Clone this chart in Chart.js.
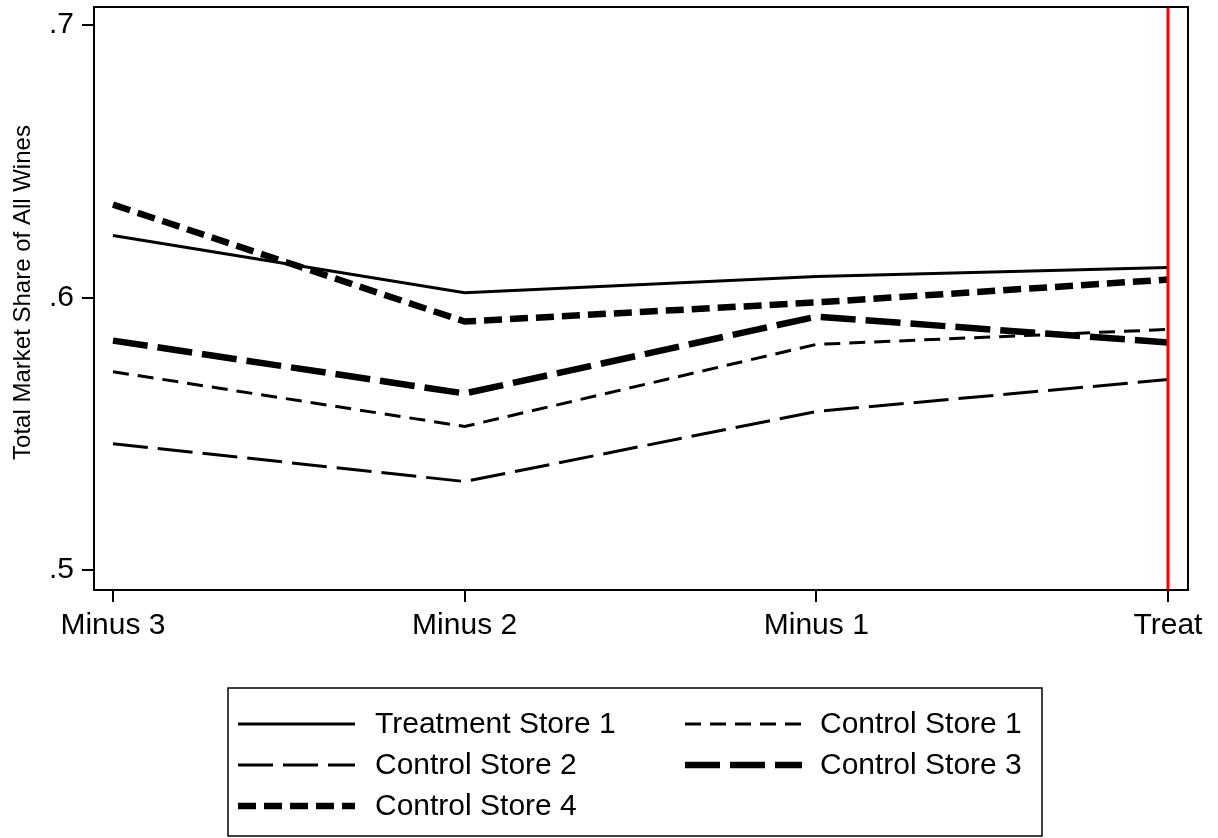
<!DOCTYPE html>
<html>
<head>
<meta charset="utf-8">
<script src="https://cdn.jsdelivr.net/npm/chart.js@4/dist/chart.umd.min.js"></script>
<style>
  html, body { margin: 0; padding: 0; background: #fff; }
  canvas { display: block; }
</style>
</head>
<body>
<canvas id="chart" width="1218" height="838"></canvas>
<script>
document.addEventListener('DOMContentLoaded', () => {

    // Data.
    const periods = ['Minus 3', 'Minus 2', 'Minus 1', 'Treat'];
    const yTicks = [0.5, 0.6, 0.7];
    const yTitle = 'Total Market Share of All Wines';
    const treatment1 = [0.6228, 0.6018, 0.6077, 0.6110];
    const control1 = [0.5728, 0.5527, 0.5828, 0.5883];
    const control2 = [0.5464, 0.5325, 0.5582, 0.5699];
    const control3 = [0.5842, 0.5648, 0.5930, 0.5835];
    const control4 = [0.6341, 0.5912, 0.5982, 0.6066];
    const treatIndex = 3;

    const FONT = '"Liberation Sans", Arial, Helvetica, sans-serif';
    const points = values => values.map((v, i) => ({ x: i, y: v }));

    function series(label, values, width, dash) {
        return {
            label: label,
            data: points(values),
            borderColor: '#000',
            borderWidth: width,
            borderDash: dash,
            borderCapStyle: 'butt',
            pointRadius: 0,
            tension: 0,
            fill: false,
        };
    }

    // Box around the plot region, the red line at the treatment period,
    // and the rotated y title.
    const frame = {
        id: 'frame',
        afterDatasetsDraw(chart) {
            const { ctx, chartArea: a, scales } = chart;
            ctx.save();
            const x = scales.x.getPixelForValue(treatIndex);
            ctx.strokeStyle = '#ff0000';
            ctx.lineWidth = 3;
            ctx.beginPath();
            ctx.moveTo(x, a.top);
            ctx.lineTo(x, a.bottom);
            ctx.stroke();
            ctx.strokeStyle = '#000';
            ctx.lineWidth = 2;
            ctx.strokeRect(a.left, a.top, a.right - a.left, a.bottom - a.top);

            ctx.translate(23, (a.top + a.bottom) / 2 - 6);
            ctx.rotate(-Math.PI / 2);
            ctx.font = '24px ' + FONT;
            ctx.fillStyle = '#000';
            ctx.textAlign = 'center';
            ctx.textBaseline = 'middle';
            ctx.fillText(yTitle, 0, 0);
            ctx.restore();
        },
    };

    // Two-column legend box under the plot, like Stata's.
    const boxLegend = {
        id: 'boxLegend',
        afterDraw(chart) {
            const ctx = chart.ctx;
            const cols = [{ line: 238, text: 375 }, { line: 685, text: 820 }];
            const rows = [724, 765, 806];
            ctx.save();
            ctx.strokeStyle = '#000';
            ctx.lineWidth = 1.5;
            ctx.strokeRect(228, 688, 814, 148);
            ctx.font = '30px ' + FONT;
            ctx.fillStyle = '#000';
            ctx.textBaseline = 'middle';
            chart.data.datasets.forEach((ds, i) => {
                const c = cols[i % 2];
                const y = rows[Math.floor(i / 2)];
                ctx.strokeStyle = ds.borderColor;
                ctx.lineWidth = ds.borderWidth;
                ctx.lineCap = 'butt';
                ctx.setLineDash(ds.borderDash);
                ctx.beginPath();
                ctx.moveTo(c.line, y);
                ctx.lineTo(c.line + 117, y);
                ctx.stroke();
                ctx.setLineDash([]);
                ctx.fillText(ds.label, c.text, y + 1);
            });
            ctx.restore();
        },
    };

    new Chart(document.getElementById('chart'), {
        type: 'line',
        data: {
            datasets: [
                series('Treatment Store 1', treatment1, 3, []),
                series('Control Store 1', control1, 3, [16, 9]),
                series('Control Store 2', control2, 3, [35, 10]),
                series('Control Store 3', control3, 6.5, [35, 10]),
                series('Control Store 4', control4, 6.5, [18, 8]),
            ],
        },
        options: {
            responsive: false,
            animation: false,
            events: [],
            layout: { padding: { top: 7, right: 30, bottom: 188, left: 0 } },
            plugins: {
                legend: { display: false },
                tooltip: { enabled: false },
            },
            scales: {
                x: {
                    type: 'linear',
                    min: -0.054,
                    max: 3.057,
                    afterBuildTicks: scale => { scale.ticks = periods.map((p, i) => ({ value: i })); },
                    afterFit: scale => {
                        scale.height = 60;
                        scale.paddingLeft = 0;
                        scale.paddingRight = 0;
                    },
                    ticks: {
                        callback: value => periods[value],
                        color: '#000',
                        font: { family: FONT, size: 30 },
                        padding: 6,
                        maxRotation: 0,
                        autoSkip: false,
                    },
                    grid: { drawOnChartArea: false, drawTicks: true, tickLength: 12, color: '#000', lineWidth: 2 },
                    border: { display: false },
                },
                y: {
                    min: 0.4927,
                    max: 0.7066,
                    afterBuildTicks: scale => { scale.ticks = yTicks.map(v => ({ value: v })); },
                    afterFit: scale => {
                        scale.width = 94;
                        scale.paddingTop = 0;
                        scale.paddingBottom = 0;
                    },
                    ticks: {
                        callback: value => value.toFixed(1).replace(/^0/, ''),
                        color: '#000',
                        font: { family: FONT, size: 30 },
                        padding: 8,
                    },
                    grid: { drawOnChartArea: false, drawTicks: true, tickLength: 12, color: '#000', lineWidth: 2 },
                    border: { display: false },
                },
            },
        },
        plugins: [frame, boxLegend],
    });

});
</script>
</body>
</html>
